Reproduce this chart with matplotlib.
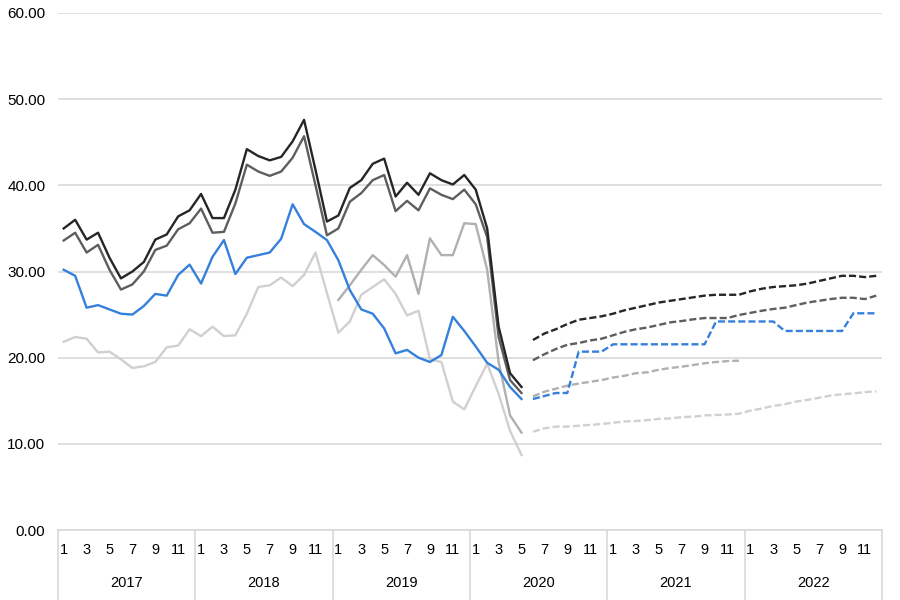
import numpy as np
import matplotlib
matplotlib.use("Agg")
import matplotlib.pyplot as plt

plt.rcParams['font.family'] = ['Liberation Sans', 'DejaVu Sans']

years = ['2017', '2018', '2019', '2020', '2021', '2022']
months = list(range(1, 13))

# Actuals: 2017-01 .. 2020-05 (41 months)
black_actual = [35.0, 36.0, 33.7, 34.5, 31.6, 29.2, 30.0, 31.1, 33.7, 34.3, 36.4, 37.1,
                39.0, 36.2, 36.2, 39.5, 44.2, 43.4, 42.9, 43.3, 45.1, 47.6, 41.8, 35.8,
                36.5, 39.7, 40.6, 42.5, 43.1, 38.7, 40.3, 38.9, 41.4, 40.6, 40.1, 41.2,
                39.5, 35.0, 23.6, 18.2, 16.6]
dgray_actual = [33.6, 34.5, 32.2, 33.1, 30.2, 27.9, 28.5, 30.0, 32.5, 33.0, 34.9, 35.6,
                37.3, 34.5, 34.6, 37.9, 42.4, 41.6, 41.1, 41.6, 43.2, 45.7, 40.0, 34.2,
                35.0, 38.1, 39.1, 40.6, 41.2, 37.0, 38.2, 37.1, 39.65, 38.9, 38.4, 39.5,
                37.8, 34.0, 22.4, 17.4, 15.9]
blue_actual = [30.2, 29.5, 25.8, 26.1, 25.6, 25.1, 25.0, 26.0, 27.4, 27.2, 29.6, 30.8,
               28.6, 31.7, 33.65, 29.7, 31.6, 31.9, 32.2, 33.8, 37.8, 35.5, 34.6, 33.65,
               31.3, 27.85, 25.6, 25.1, 23.4, 20.5, 20.9, 20.0, 19.5, 20.3, 24.75, 23.1,
               21.3, 19.4, 18.6, 16.6, 15.2]
lgray_actual = [21.85, 22.4, 22.2, 20.6, 20.7, 19.8, 18.8, 19.0, 19.5, 21.2, 21.4, 23.3,
                22.5, 23.6, 22.5, 22.6, 25.1, 28.2, 28.4, 29.3, 28.3, 29.6, 32.2, 27.5,
                22.9, 24.2, 27.3, 28.2, 29.1, 27.4, 24.9, 25.45, 19.8, 19.5, 14.9, 14.0,
                16.7, 19.3, 15.8, 11.5, 8.7]
# Medium gray actual: 2019-01 .. 2020-05 (17 months)
mgray_actual = [26.7, 28.4, 30.2, 31.9, 30.75, 29.4, 31.9, 27.4, 33.85, 31.9, 31.9, 35.6,
                35.5, 30.2, 19.5, 13.3, 11.3]

# Forecasts: 2020-06 .. 2022-12 (31 months)
black_fcst = [22.05, 22.8, 23.3, 23.9, 24.4, 24.6, 24.8,
              25.1, 25.5, 25.8, 26.1, 26.4, 26.6, 26.8, 27.0, 27.2, 27.3, 27.3, 27.3,
              27.7, 28.0, 28.2, 28.3, 28.4, 28.6, 28.9, 29.2, 29.5, 29.5, 29.35, 29.5]
dgray_fcst = [19.7, 20.4, 21.0, 21.5, 21.7, 22.0, 22.2,
              22.6, 23.0, 23.3, 23.5, 23.8, 24.1, 24.25, 24.45, 24.6, 24.6, 24.6, 24.95,
              25.2, 25.45, 25.65, 25.8, 26.1, 26.4, 26.6, 26.8, 26.95, 26.95, 26.8, 27.2]
blue_fcst = [15.2, 15.55, 15.9, 15.9, 20.7, 20.7, 20.7,
             21.55, 21.55, 21.55, 21.55, 21.55, 21.55, 21.55, 21.55, 21.55, 24.2, 24.2, 24.2,
             24.2, 24.2, 24.2, 23.1, 23.1, 23.1, 23.1, 23.1, 23.1, 25.15, 25.15, 25.15]
lgray_fcst = [11.4, 11.8, 12.0, 12.0, 12.1, 12.2, 12.3,
              12.45, 12.6, 12.65, 12.75, 12.9, 12.95, 13.1, 13.15, 13.3, 13.35, 13.4, 13.5,
              13.85, 14.1, 14.4, 14.6, 14.9, 15.1, 15.35, 15.6, 15.75, 15.85, 16.0, 16.1]
# Medium gray forecast: 2020-06 .. 2021-12 (19 months)
mgray_fcst = [15.5, 16.05, 16.4, 16.75, 17.0, 17.2, 17.4,
              17.7, 17.9, 18.2, 18.3, 18.6, 18.8, 18.95, 19.15, 19.35, 19.5, 19.6, 19.65]

yticks = [0, 10, 20, 30, 40, 50, 60]

c_black = '#262626'
c_dgray = '#5e5e5e'
c_blue = '#3580dc'
c_mgray = '#b0b0b0'
c_lgray = '#d0d0d0'
grid_c = '#d9d9d9'

fig = plt.figure(figsize=(9, 6), dpi=100)
ax = fig.add_axes([58 / 900, 70 / 600, (882 - 58) / 900, (530 - 13) / 600])

n_total = len(years) * 12
x_all = np.arange(n_total)
n_act = len(black_actual)
x_act = x_all[:n_act]
x_fc = x_all[n_act:n_act + len(black_fcst)]
x_mact = x_all[24:24 + len(mgray_actual)]
x_mfc = x_all[n_act:n_act + len(mgray_fcst)]

lw = 1.7
dash = (0, (3.0, 1.3))
ax.plot(x_act, lgray_actual, color=c_lgray, lw=lw, zorder=3)
ax.plot(x_mact, mgray_actual, color=c_mgray, lw=lw, zorder=3)
ax.plot(x_act, blue_actual, color=c_blue, lw=lw, zorder=4)
ax.plot(x_act, dgray_actual, color=c_dgray, lw=lw, zorder=4)
ax.plot(x_act, black_actual, color=c_black, lw=lw, zorder=5)

ax.plot(x_fc, lgray_fcst, color=c_lgray, lw=lw, ls=dash, zorder=3)
ax.plot(x_mfc, mgray_fcst, color=c_mgray, lw=lw, ls=dash, zorder=3)
ax.plot(x_fc, blue_fcst, color=c_blue, lw=lw, ls=dash, zorder=4)
ax.plot(x_fc, dgray_fcst, color=c_dgray, lw=lw, ls=dash, zorder=4)
ax.plot(x_fc, black_fcst, color=c_black, lw=lw, ls=dash, zorder=5)

ax.set_xlim(-0.5, n_total - 0.5)
ax.set_ylim(0, 60)
ax.set_yticks(yticks)
ax.set_yticklabels([f'{v:.2f}' for v in yticks], fontsize=11, color='#000000')
ax.tick_params(axis='y', length=0, pad=9)
ax.yaxis.grid(True, color=grid_c, lw=1.2)
ax.set_axisbelow(True)
for s in ['top', 'right', 'left']:
    ax.spines[s].set_visible(False)
ax.spines['bottom'].set_color(grid_c)
ax.spines['bottom'].set_linewidth(1.2)

ax.set_xticks([])
xt = ax.get_xaxis_transform()
h_px = 530 - 13
for yi, yr in enumerate(years):
    for m in months:
        if m % 2 == 1:
            ax.text(yi * 12 + m - 1, -(550 - 530) / h_px, str(m), transform=xt,
                    ha='center', va='center', fontsize=10.5)
    ax.text(yi * 12 + 5.5, -(583 - 530) / h_px, yr, transform=xt,
            ha='center', va='center', fontsize=10.5)
for k in range(len(years) + 1):
    ax.plot([k * 12 - 0.5] * 2, [0, -75 / h_px], transform=xt, color=grid_c,
            lw=1.2, clip_on=False)

fig.savefig('out.png', dpi=100)
